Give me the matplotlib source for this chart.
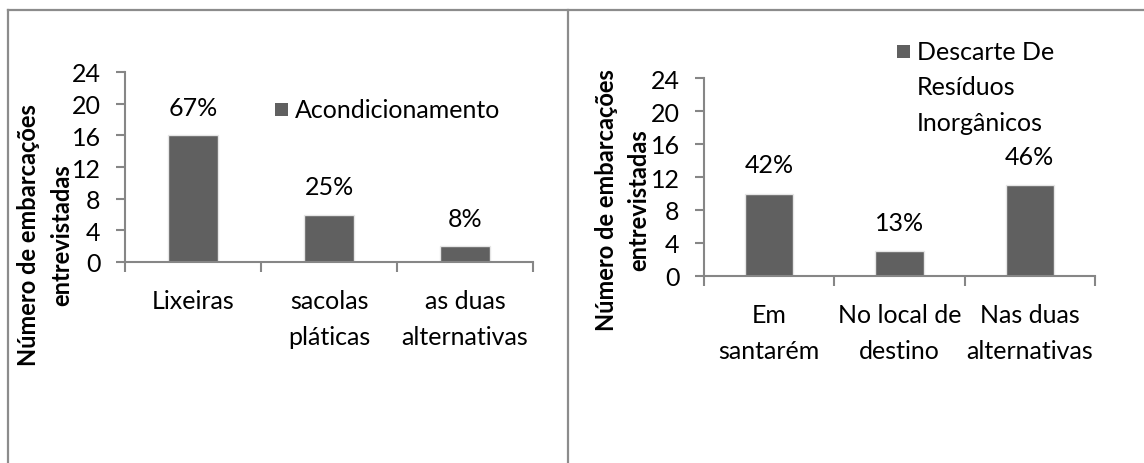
import matplotlib
matplotlib.use("Agg")
import matplotlib.pyplot as plt
from matplotlib.lines import Line2D
from matplotlib.patches import Rectangle

plt.rcParams['font.family'] = ['Lato', 'DejaVu Sans']

# dados das entrevistas (numero de embarcacoes)
cat_acond = ['Lixeiras', 'sacolas\npláticas', 'as duas\nalternativas']
val_acond = [16, 6, 2]
pct_acond = ['67%', '25%', '8%']

cat_desc = ['Em\nsantarém', 'No local de\ndestino', 'Nas duas\nalternativas']
val_desc = [10, 3, 11]
pct_desc = ['42%', '13%', '46%']

legenda_acond = 'Acondicionamento'
legenda_desc = 'Descarte De\nResíduos\nInorgânicos'
ylabel = ['Número de embarcações', 'entrevistadas']
yticks = [0, 4, 8, 12, 16, 20, 24]

W, H = 1144, 464
bar_color = '#606060'
axis_color = '#868686'
fs = 18

fig = plt.figure(figsize=(W / 100, H / 100), dpi=100)


def px(x, y):
    # pixel (a partir do topo) -> coordenadas da figura
    return x / W, 1 - y / H


def grafico(rect, cats, vals, pcts, lab_off):
    ax = fig.add_axes(rect)
    x = range(len(cats))
    bars = ax.bar(x, vals, width=0.37, color=bar_color, edgecolor='#e6e6e6', linewidth=1.0, zorder=2)
    ax.set_xlim(-0.5, len(cats) - 0.5)
    ax.set_ylim(0, 24)
    ax.set_yticks(yticks)
    ax.set_xticks(list(x))
    ax.set_xticklabels(cats, fontsize=fs, linespacing=1.68)
    ax.set_xticks([i - 0.5 for i in range(len(cats) + 1)], minor=True)
    ax.tick_params(axis='x', which='major', length=0, pad=19.5)
    ax.tick_params(axis='x', which='minor', length=7, width=1.5, color=axis_color, direction='out')
    ax.tick_params(axis='y', length=6.5, width=1.5, color=axis_color, labelsize=fs, pad=11)
    for s in ['top', 'right']:
        ax.spines[s].set_visible(False)
    for s in ['left', 'bottom']:
        ax.spines[s].set_color(axis_color)
        ax.spines[s].set_linewidth(1.5)
    for b, p in zip(bars, pcts):
        ax.text(b.get_x() + b.get_width() / 2, b.get_height() + lab_off, p,
                ha='center', va='center', fontsize=fs)
    return ax, bars


def legenda(x, y, texto, cor):
    # quadrado + texto da serie
    fx, fy = px(x, y)
    fig.add_artist(Rectangle((fx, fy - 13 / H), 13 / W, 13 / H, transform=fig.transFigure,
                             facecolor=cor, edgecolor='none'))
    tx, ty = px(x + 20, y - 5)
    fig.text(tx, ty, texto, ha='left', va='top', fontsize=fs, linespacing=1.65)


def rotulo_y(x1, x2, yc):
    # titulo do eixo y em duas linhas, rotacionado
    for xc, txt in zip([x1, x2], ylabel):
        fx, fy = px(xc, yc)
        fig.text(fx, fy, txt, rotation=90, ha='center', va='center', fontsize=17,
                 fontweight='bold')


l, b = px(125, 263)
ax1, bars1 = grafico([l, b, 408 / W, 190 / H], cat_acond, val_acond, pct_acond, 3.5)
l, b = px(704, 277)
ax2, bars2 = grafico([l, b, 391 / W, 198 / H], cat_desc, val_desc, pct_desc, 3.5)

legenda(275, 104, legenda_acond, bars1.patches[0].get_facecolor())
legenda(897, 46, legenda_desc, bars2.patches[0].get_facecolor())

rotulo_y(29, 62, 235)
rotulo_y(606, 639, 200)

# molduras
for xs, ys in [([8, 8], [11, H]), ([568, 568], [11, H]), ([8, W], [11, 11])]:
    fig.add_artist(Line2D([v / W for v in xs], [1 - v / H for v in ys],
                          transform=fig.transFigure, color='#8c8c8c', linewidth=1.6))

fig.savefig('out.png', dpi=100, facecolor='white')
